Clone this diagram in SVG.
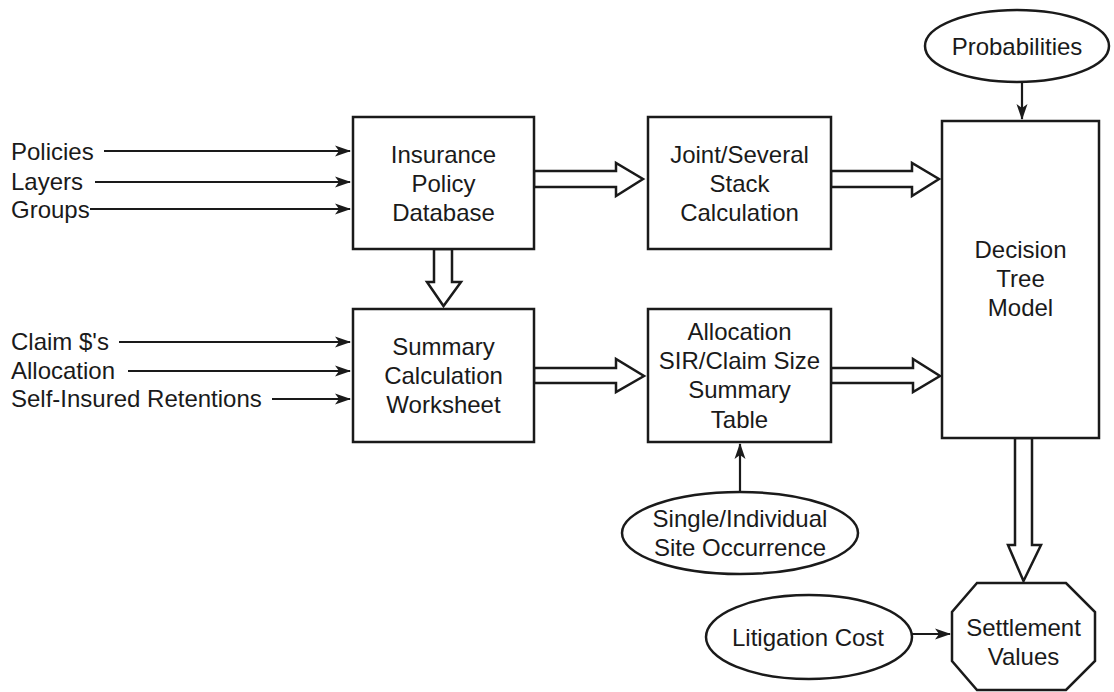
<svg xmlns="http://www.w3.org/2000/svg" width="1114" height="692" viewBox="0 0 1114 692">
  <defs>
    <marker id="head" markerWidth="16" markerHeight="12" refX="15" refY="6" orient="auto" markerUnits="userSpaceOnUse">
      <path d="M0,0.5 L16,6 L0,11.5 L4,6 z" fill="#1a1a1a"/>
    </marker>
    <style>
      text { font-family: "Liberation Sans", Arial, sans-serif; font-size: 24px; fill: #1a1a1a; }
      .c { text-anchor: middle; }
      .box { fill: #fff; stroke: #1a1a1a; stroke-width: 2.5; }
      .fat { fill: #fff; stroke: #1a1a1a; stroke-width: 2.5; stroke-linejoin: miter; }
      .thin { fill: none; stroke: #1a1a1a; stroke-width: 2.2; marker-end: url(#head); }
    </style>
  </defs>
  <rect width="1114" height="692" fill="#fff"/>

  <!-- input labels on the left -->
  <g id="inputs-policy">
    <text x="11" y="160">Policies</text>
    <text x="11" y="190">Layers</text>
    <text x="11" y="218">Groups</text>
  </g>
  <g id="inputs-claims">
    <text x="11" y="350">Claim $'s</text>
    <text x="11" y="379">Allocation</text>
    <text x="11" y="407">Self-Insured Retentions</text>
  </g>

  <!-- connectors -->
  <g id="connectors">
    <line class="thin" x1="104" y1="151" x2="350" y2="151"/>
    <line class="thin" x1="95" y1="182" x2="350" y2="182"/>
    <line class="thin" x1="90" y1="209" x2="350" y2="209"/>
    <line class="thin" x1="119" y1="342" x2="350" y2="342"/>
    <line class="thin" x1="128" y1="371" x2="350" y2="371"/>
    <line class="thin" x1="272" y1="399" x2="350" y2="399"/>
    <line class="thin" x1="1022" y1="82" x2="1022" y2="119"/>
    <line class="thin" x1="740" y1="492" x2="740" y2="444"/>
    <line class="thin" x1="912" y1="634" x2="950" y2="634"/>
    <!-- wide hollow arrows -->
    <polygon class="fat" points="534,171 616,171 616,163 643,179 616,196 616,187 534,187"/>
    <polygon class="fat" points="831,171 912,171 912,163 939,179 912,196 912,187 831,187"/>
    <polygon class="fat" points="534,368 616,368 616,359 644,376 616,392 616,383 534,383"/>
    <polygon class="fat" points="831,368 913,368 913,359 940,376 913,392 913,383 831,383"/>
    <polygon class="fat" points="434,249 434,282 427,282 443.5,306 461,282 452,282 452,249"/>
    <polygon class="fat" points="1015,438 1015,545 1008,545 1023.5,581 1041,545 1032,545 1032,438"/>
  </g>

  <g id="policy-db">
    <rect class="box" x="353" y="117" width="181" height="132"/>
    <text class="c" x="443.5" y="163">Insurance</text>
    <text class="c" x="443.5" y="192">Policy</text>
    <text class="c" x="443.5" y="221">Database</text>
  </g>

  <g id="joint-several">
    <rect class="box" x="648" y="117" width="183" height="132"/>
    <text class="c" x="739.5" y="163">Joint/Several</text>
    <text class="c" x="739.5" y="192">Stack</text>
    <text class="c" x="739.5" y="221">Calculation</text>
  </g>

  <g id="summary-worksheet">
    <rect class="box" x="353" y="309" width="181" height="133"/>
    <text class="c" x="443.5" y="355">Summary</text>
    <text class="c" x="443.5" y="384">Calculation</text>
    <text class="c" x="443.5" y="413">Worksheet</text>
  </g>

  <g id="allocation-table">
    <rect class="box" x="648" y="309" width="183" height="133"/>
    <text class="c" x="739.5" y="340">Allocation</text>
    <text class="c" x="739.5" y="369">SIR/Claim Size</text>
    <text class="c" x="739.5" y="398">Summary</text>
    <text class="c" x="739.5" y="428">Table</text>
  </g>

  <g id="decision-tree">
    <rect class="box" x="942" y="121" width="157" height="317"/>
    <text class="c" x="1020.5" y="258">Decision</text>
    <text class="c" x="1020.5" y="287">Tree</text>
    <text class="c" x="1020.5" y="316">Model</text>
  </g>

  <g id="probabilities">
    <ellipse class="box" cx="1017" cy="46" rx="92" ry="36"/>
    <text class="c" x="1017" y="55">Probabilities</text>
  </g>

  <g id="site-occurrence">
    <ellipse class="box" cx="740" cy="533" rx="118" ry="41"/>
    <text class="c" x="740" y="527">Single/Individual</text>
    <text class="c" x="740" y="556">Site Occurrence</text>
  </g>

  <g id="litigation-cost">
    <ellipse class="box" cx="809" cy="637" rx="103" ry="42"/>
    <text class="c" x="808" y="646">Litigation Cost</text>
  </g>

  <g id="settlement-values">
    <polygon class="box" points="977,583 1066,583 1095,612 1095,661 1066,690 977,690 952,661 952,612"/>
    <text class="c" x="1023.5" y="636">Settlement</text>
    <text class="c" x="1023.5" y="665">Values</text>
  </g>
</svg>
